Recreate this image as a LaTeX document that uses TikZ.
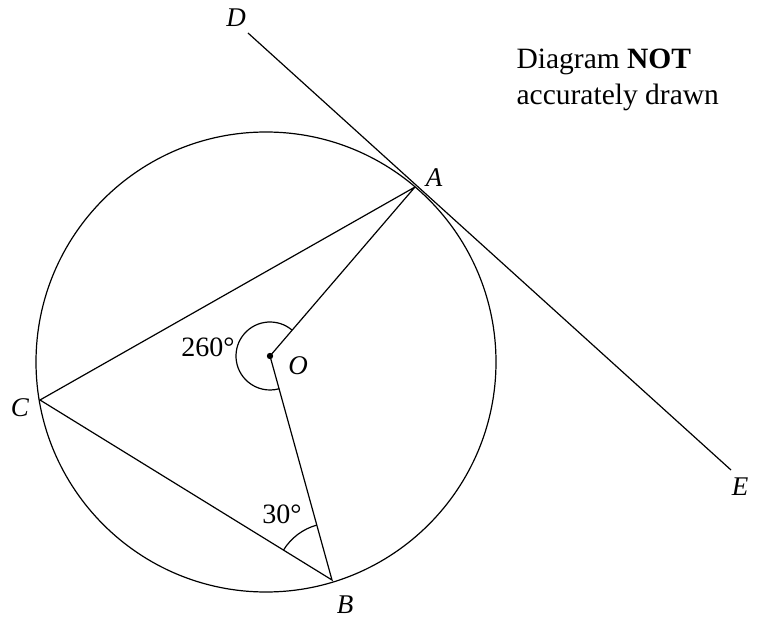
\documentclass[tikz,border=0pt]{standalone}
\usepackage{fontspec}
\setmainfont{Liberation Serif}
\begin{document}
\begin{tikzpicture}[x=1pt,y=1pt,line width=1.2pt,
  lbl/.style={font=\fontsize{27}{30}\selectfont\itshape, inner sep=0pt},
  ang/.style={font=\fontsize{28}{30}\selectfont, inner sep=0pt}]
\useasboundingbox (0,0) rectangle (757,619);
\coordinate (Z) at (266,257);
\coordinate (O) at (270,263);
\coordinate (A) at (415,432);
\coordinate (B) at (332,39);
\coordinate (C) at (40,219);
\coordinate (D) at (248,586);
\coordinate (E) at (731,149);
\draw (Z) circle (230);
\draw (D) -- (E);
\draw (A) -- (C) -- (B) -- (O) -- (A);
\fill (O) circle (3.2);
\draw ([shift={(49.4:34)}]O) arc (49.4:285.5:34);
\draw ([shift={(105.5:57)}]B) arc (105.5:148.4:57);
\node[lbl] (lD) at (236,601) {D};
\node[lbl] (lA) at (434,441) {A};
\node[lbl] (lC) at (20,211) {C};
\node[lbl] (lB) at (345,14) {B};
\node[lbl] (lE) at (740,132) {E};
\node[lbl] (lO) at (298,253) {O};
\node[ang] (a260) at (208,272) {260°};
\node[ang] (a30) at (282,105) {30°};
\node[anchor=west, inner sep=0pt, font=\fontsize{29.5}{33}\selectfont] (t1) at (516,557) {Diagram \textbf{NOT}};
\node[anchor=west, inner sep=0pt, font=\fontsize{29.5}{33}\selectfont] (t2) at (516,522) {accurately drawn};
\end{tikzpicture}
\end{document}
